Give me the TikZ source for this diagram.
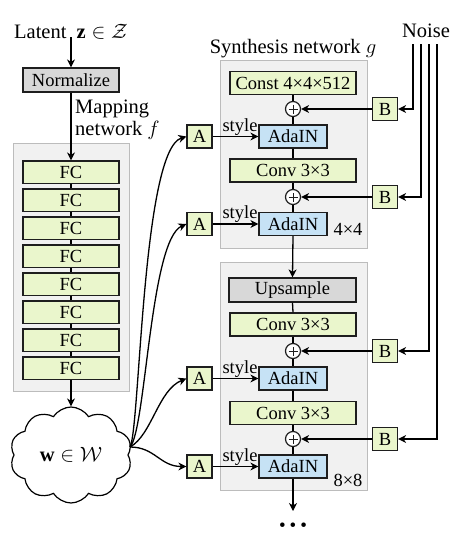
\documentclass[tikz,border=0pt]{standalone}
\usepackage{fontspec}
\setmainfont{Liberation Serif}
\usetikzlibrary{arrows.meta,shapes.symbols}
\definecolor{boxgreen}{RGB}{234,246,204}
\definecolor{boxblue}{RGB}{198,226,245}
\definecolor{boxgray}{RGB}{216,216,216}
\definecolor{panelfill}{RGB}{241,241,241}
\definecolor{panelline}{RGB}{188,188,188}
\definecolor{edge}{RGB}{30,30,30}
\begin{document}
\begin{tikzpicture}[x=1pt,y=-1pt,
  >={Stealth[length=8pt,width=8pt,inset=2.5pt]},
  conn/.style={draw=black,line width=1.3pt},
  box/.style={draw=edge,line width=1.2pt,inner sep=0pt,font=\fontsize{18.5}{18.5}\selectfont},
  widebox/.style={box,fill=boxgreen,minimum width=126pt,minimum height=23pt},
  fcbox/.style={box,fill=boxgreen,minimum width=96pt,minimum height=22.5pt},
  adabox/.style={box,fill=boxblue,minimum width=68pt,minimum height=23pt},
  graybox/.style={box,fill=boxgray,minimum height=24pt},
  smallbox/.style={box,fill=boxgreen,minimum width=25pt,minimum height=23pt},
  plusnode/.style={circle,draw=edge,line width=1.2pt,fill=white,minimum size=15pt,inner sep=0pt,
    path picture={\draw[line width=1pt] ([yshift=-4.5pt]path picture bounding box.center) -- ([yshift=4.5pt]path picture bounding box.center)
                  ([xshift=-4.5pt]path picture bounding box.center) -- ([xshift=4.5pt]path picture bounding box.center);}},
  panel/.style={draw=panelline,fill=panelfill,line width=1pt},
  titletext/.style={inner sep=0pt,font=\fontsize{20.5}{22}\selectfont},
  plaintext/.style={inner sep=0pt,font=\fontsize{18.5}{18.5}\selectfont}
]
\useasboundingbox (0,0) rectangle (464,542);
\fill[white] (0,0) rectangle (464,542);

% panels
\path[panel] (13,143) rectangle (129,391);
\path[panel] (220,60) rectangle (367,248);
\path[panel] (220,262) rectangle (367,490);

% titles
\node[titletext,anchor=base] (latent) at (71,38) {Latent\ \ $\mathbf{z}\in\mathcal{Z}$};
\node[titletext,anchor=base west] (map1) at (75,113) {Mapping};
\node[titletext,anchor=base west] (map2) at (75,135) {network $f$};
\node[titletext,anchor=base] (synth) at (293,53) {Synthesis network $g$};
\node[titletext,anchor=base] (noise) at (426,37.5) {Noise};

% mapping network
\node[graybox,minimum width=96pt] (norm) at (71,80) {Normalize};
\foreach \i in {1,...,8}{
  \node[fcbox] (fc\i) at (71,{172.25+28*(\i-1)}) {FC};
}
\node[cloud,cloud puffs=10,cloud puff arc=115,aspect=1.3,draw=black,line width=1.2pt,fill=white,
      minimum width=122pt,minimum height=96pt,inner sep=0pt,font=\fontsize{20.5}{22}\selectfont]
      (w) at (71,455) {$\mathbf{w}\in\mathcal{W}$};

\draw[conn,->] (latent.south) ++(0,-2) coordinate (lt) -- (norm.north);
\draw[conn,->] (norm.south) -- (fc1.north);
\foreach \i/\j in {1/2,2/3,3/4,4/5,5/6,6/7,7/8}{
  \draw[conn] (fc\i.south) -- (fc\j.north);
}
\draw[conn,->] (fc8.south) -- (w.north);

% synthesis block 4x4
\node[widebox] (const) at (293,83) {Const 4×4×512};
\node[plusnode] (p1) at (293,109) {};
\node[adabox] (ada1) at (293,136.5) {AdaIN};
\node[widebox] (conv1) at (293,170.5) {Conv 3×3};
\node[plusnode] (p2) at (293,197) {};
\node[adabox] (ada2) at (293,224) {AdaIN};
\node[plaintext] (res4) at (348,229.5) {4×4};

% synthesis block 8x8
\node[graybox,minimum width=127pt] (ups) at (292.5,290) {Upsample};
\node[widebox] (conv2) at (293,324.5) {Conv 3×3};
\node[plusnode] (p3) at (293,351) {};
\node[adabox] (ada3) at (293,378.5) {AdaIN};
\node[widebox] (conv3) at (293,413) {Conv 3×3};
\node[plusnode] (p4) at (293,439) {};
\node[adabox] (ada4) at (293,466.5) {AdaIN};
\node[plaintext] (res8) at (348,480) {8×8};
\node[inner sep=0pt,font=\fontsize{19}{19}\selectfont] (dots) at (293,527) {•\hspace{4pt}•\hspace{4pt}•};
\coordinate (endpt) at (293,511);

\draw[conn] (const.south) -- (p1.north);
\draw[conn] (p1.south) -- (ada1.north);
\draw[conn] (ada1.south) -- (conv1.north);
\draw[conn] (conv1.south) -- (p2.north);
\draw[conn] (p2.south) -- (ada2.north);
\draw[conn,->] (ada2.south) -- (ups.north);
\draw[conn] (ups.south) -- (conv2.north);
\draw[conn] (conv2.south) -- (p3.north);
\draw[conn] (p3.south) -- (ada3.north);
\draw[conn] (ada3.south) -- (conv3.north);
\draw[conn] (conv3.south) -- (p4.north);
\draw[conn] (p4.south) -- (ada4.north);
\draw[conn,->] (ada4.south) -- (endpt);

% A boxes and styles
\foreach \k/\y in {1/136.5,2/224,3/378.5,4/466.5}{
  \node[smallbox] (A\k) at (199.5,\y) {A};
  \draw[conn,->] (A\k.east) -- (ada\k.west);
  \node[plaintext,anchor=base] (st\k) at (240,{\y-5.5}) {style};
}

% B boxes and noise
\foreach \k/\y/\x in {1/109/413,2/197/421,3/351/429,4/439/437}{
  \node[smallbox] (B\k) at (385,\y) {B};
  \draw[conn,->] (B\k.west) -- (p\k.east);
  \coordinate (n\k) at (\x,44);
  \draw[conn,->] (n\k) |- (B\k.east);
}

% curves from w
\coordinate (wo) at (130,447);
\draw[conn,->] (wo) .. controls (140,430) and (142,150) .. (A1.west);
\draw[conn,->] (wo) .. controls (146,430) and (150,240) .. (A2.west);
\draw[conn,->] (wo) .. controls (152,435) and (158,390) .. (A3.west);
\draw[conn,->] (wo) .. controls (155,447) and (160,466.5) .. (A4.west);
\end{tikzpicture}
\end{document}
